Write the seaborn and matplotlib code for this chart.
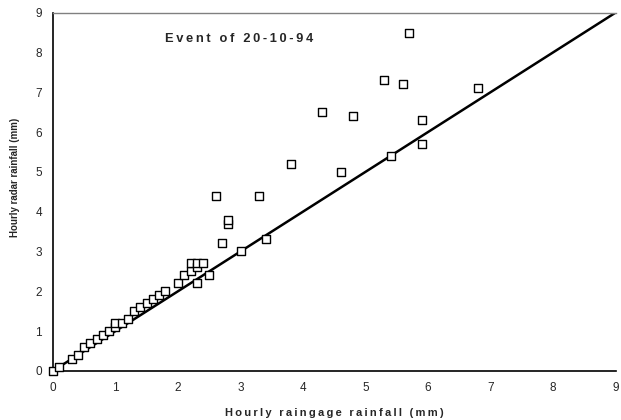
import pandas as pd
import matplotlib
matplotlib.use("Agg")
import matplotlib.pyplot as plt
import seaborn as sns

# Hourly rainfall pairs (mm)
raingage = [0.0, 0.1, 0.3, 0.4, 0.5, 0.6, 0.7, 0.8, 0.9, 1.0, 1.0, 1.1, 1.2, 1.3,
            1.4, 1.5, 1.6, 1.7, 1.8, 2.0, 2.1, 2.2, 2.2, 2.3, 2.3, 2.3, 2.4, 2.5,
            2.6, 2.7, 2.8, 2.8, 3.0, 3.3, 3.4, 3.8, 4.3, 4.6, 4.8, 5.3, 5.4, 5.6,
            5.7, 5.9, 5.9, 6.8]
radar = [0.0, 0.1, 0.3, 0.4, 0.6, 0.7, 0.8, 0.9, 1.0, 1.1, 1.2, 1.2, 1.3, 1.5,
         1.6, 1.7, 1.8, 1.9, 2.0, 2.2, 2.4, 2.5, 2.7, 2.2, 2.6, 2.7, 2.7, 2.4,
         4.4, 3.2, 3.7, 3.8, 3.0, 4.4, 3.3, 5.2, 6.5, 5.0, 6.4, 7.3, 5.4, 7.2,
         8.5, 5.7, 6.3, 7.1]
ticks = list(range(10))

df = pd.DataFrame({"raingage": raingage, "radar": radar})


def spaced(s):
    # rough letter spacing with thin spaces
    return "\u2009".join(s)


sns.set_style("white")
plt.rcParams["font.family"] = ["Liberation Sans", "DejaVu Sans"]

fig = plt.figure(figsize=(6.21, 4.2), dpi=100)
ax = fig.add_axes([0.0853, 0.117, 0.906, 0.853])

# 1:1 line
ax.plot([0, 9], [0, 9], color="black", lw=1.8, zorder=2)

sns.scatterplot(data=df, x="raingage", y="radar", marker="s", s=38,
                facecolor="white", edgecolor="black", linewidth=1.0,
                ax=ax, zorder=3, clip_on=False)

ax.set_xlim(0, 9)
ax.set_ylim(0, 9)
ax.set_xticks(ticks)
ax.set_yticks(ticks)
ax.tick_params(direction="inout", length=6, width=0.8, color="black",
               labelsize=8.5, pad=5)

for side in ["left", "bottom"]:
    ax.spines[side].set_color("black")
    ax.spines[side].set_linewidth(1.2)
ax.spines["top"].set_color("#808080")
ax.spines["top"].set_linewidth(1.0)
ax.spines["right"].set_visible(False)

ax.set_xlabel(spaced("Hourly raingage rainfall (mm)"), fontsize=8,
              fontweight="bold", labelpad=10)
ax.set_ylabel("Hourly radar rainfall (mm)", fontsize=7, fontweight="bold")
ax.yaxis.set_label_coords(-0.058, 0.54)
ax.text(1.8, 8.33, spaced("Event of 20-10-94"), fontsize=9.3, fontweight="bold",
        ha="left", va="center")

fig.savefig("out.png", dpi=100)
